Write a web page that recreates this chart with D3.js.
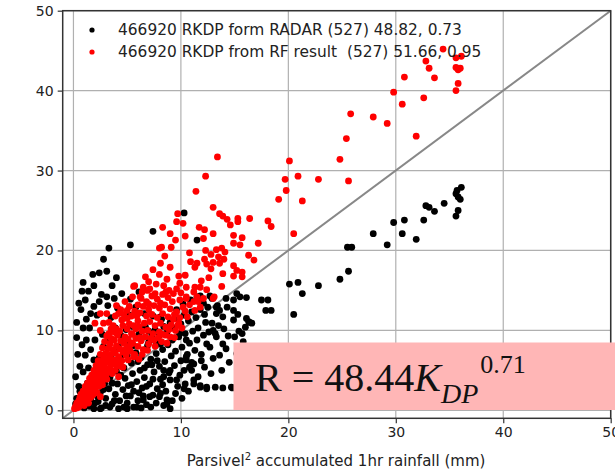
<!DOCTYPE html>
<html>
<head>
<meta charset="utf-8">
<script src="https://cdn.jsdelivr.net/npm/d3@7"></script>
<style>
body{margin:0;background:#fff}
svg{display:block;font-family:"DejaVu Sans",sans-serif}
</style>
</head>
<body>
<script>

// Legend entries
var seriesNames = ["466920 RKDP form RADAR (527) 48.82, 0.73",
                   "466920 RKDP from RF result  (527) 51.66, 0.95"];
var seriesColors = ["black", "red"];

// Tick labels
var xTicks = [0, 10, 20, 30, 40, 50];
var yTicks = [0, 10, 20, 30, 40, 50];

// RKDP from radar (x: Parsivel rainfall, y: estimate)
var radarPts = [
  [36.1,27.9],[35.7,27.5],[35.6,27.1],[35.8,26.7],[36.0,26.4],[35.8,25.0],[35.6,24.3],[34.5,25.9],
  [32.8,25.6],[33.1,25.4],[33.6,24.9],[32.6,23.8],[30.8,23.8],[29.8,23.5],[30.6,22.1],[31.9,21.4],
  [27.9,22.1],[29.2,20.7],[25.5,20.4],[25.9,20.4],[25.6,17.4],[24.8,16.4],[22.8,15.6],[20.9,16.0],
  [20.1,15.8],[21.3,14.6],[20.5,12.0],[18.1,13.8],[18.4,12.5],[7.4,22.4],[5.3,20.7],[3.3,20.3],
  [10.3,24.7],[11.5,21.3],[2.8,18.9],[2.4,17.2],[0.8,14.9],[1.4,14.9],[1.9,15.6],[3.6,15.6],
  [2.6,14.5],[3.1,14.2],[16.1,14.1],[17.5,13.8],[17.9,12.5],[16.4,11.0],[14.2,14.0],[14.9,13.8],
  [15.3,12.0],[16.1,11.5],[11.8,14.3],[12.7,14.3],[13.4,13.1],[11.5,14.2],[12.1,13.4],[12.9,14.0],
  [13.3,12.9],[13.6,12.5],[13.9,11.7],[14.9,12.5],[15.2,14.6],[15.5,14.2],[16.3,11.1],[15.7,9.6],
  [15.2,7.1],[15.4,9.9],[16.0,10.4],[16.6,10.9],
  [10.5,8.8],[11.5,8.8],[12.4,8.3],[13.0,6.5],[12.7,7.9],[13.3,9.2],[13.9,8.3],[10.5,6.7],
  [11.2,5.8],[11.0,5.0],[10.4,3.3],[11.2,3.3],[11.8,3.1],[12.4,2.9],[13.2,2.9],[13.9,2.8],
  [14.7,2.9],[14.8,2.8],[8.0,1.7],[8.7,0.8],[9.0,0.2],[5.9,0.4],[5.0,0.2],[4.2,0.2],[3.4,0.4],
  [8.1,11.7],[9.0,10.4],[9.9,9.6],[13.3,12.1],[14.9,11.3],[14.3,12.9],[13.0,10.0],[10.5,6.3],
  [10.8,5.4],[11.2,3.8],[11.8,2.9],[12.4,2.7],[9.6,3.8],[9.9,4.4],[9.0,5.0],[8.4,4.2],[8.1,2.1],
  [8.7,1.3],[6.5,1.3],[7.1,1.7],[5.6,0.4],[2.5,0.2],[1.9,0.2],
  [0.3,1.5],[0.5,3.0],[0.2,4.2],[0.6,5.5],[0.4,7.0],[0.8,8.2],[0.3,9.1],[0.9,10.3],[1.2,11.4],
  [0.7,12.6],[1.6,12.1],[1.9,13.0],[2.4,13.6],[3.2,13.1],[3.8,14.0],[4.5,14.6],[4.1,12.8],
  [5.3,13.9],[5.8,12.9],[6.1,14.8],[5.2,11.9],[3.5,11.6],[2.2,11.9],[1.5,10.3],[2.7,9.5],
  [2.0,8.8],[1.1,6.9],[0.9,4.8],[1.3,3.4],[1.8,2.4],[2.3,1.1],[2.6,0.3],[3.0,1.5],[3.3,2.7],
  [3.6,0.8],[3.9,2.0],[4.1,3.3],[4.3,1.2],[4.6,2.6],[4.8,4.0],[5.0,0.9],[5.1,3.1],[5.3,1.8],
  [5.5,4.6],[5.6,2.4],[5.9,3.6],[6.0,1.2],[6.2,5.0],[6.4,2.8],[6.6,4.1],[6.8,0.7],[6.9,5.7],
  [7.1,3.3],[7.2,6.4],[7.4,1.9],[7.5,4.8],[7.7,7.1],[7.8,2.7],[8.0,5.5],[8.1,3.9],[8.3,7.6],
  [8.5,6.1],[8.6,2.4],[8.8,8.2],[8.9,4.7],[9.1,6.8],[9.2,8.8],[9.4,5.6],[9.5,7.4],[9.7,3.0],
  [9.8,9.2],[10.0,6.2],[10.1,7.9],[10.3,5.0],[10.4,9.6],[10.6,7.0],[10.8,8.4],[11.0,6.0],
  [11.1,9.9],[11.3,7.5],[11.6,10.3],[11.9,7.0],[12.1,9.4],[12.3,11.0],[12.6,9.8],[12.9,10.9],
  [13.2,9.6],[13.5,10.6],[14.0,10.2],[14.4,9.3],[15.0,9.2],[15.8,8.6],[16.2,8.0],
  [2.1,4.0],[2.5,2.2],[2.9,3.4],[3.1,5.0],[3.4,4.1],[3.7,6.0],[4.0,4.9],[4.4,6.6],[4.7,5.3],
  [5.0,6.9],[5.4,5.9],[5.8,7.2],[6.3,6.6],[6.7,7.6],[7.0,8.5],[7.3,9.3],[7.6,10.1],[8.0,9.4],
  [8.4,10.5],[8.7,9.8],[9.0,11.0],[9.3,10.3],[9.6,11.5],[10.0,10.8],[10.3,11.9],[10.7,11.2],
  [11.0,12.3],[11.4,11.6],[11.8,12.6],[12.2,12.0],[12.5,12.9],[8.2,11.4],[7.4,11.8],[6.6,12.1],
  [3.0,0.6],[1.5,0.5],[4.7,0.4],[6.3,0.3],[7.7,0.9],[8.4,0.6],[2.0,0.9],[1.0,0.3],[0.5,0.7],
  [1.2,8.8],[1.6,7.6],[2.4,6.6],[2.8,8.0],[3.3,9.0],[3.9,10.3],[4.4,9.4],[4.9,10.1],[5.5,10.5],
  [6.1,9.5],[6.7,10.4],[7.0,9.9],[1.9,6.3],[1.4,5.3],[2.6,5.0],[3.5,6.8],[4.2,7.9],[4.9,8.6],
  [5.6,8.1],[6.3,8.9],[6.9,8.1],[7.6,8.7],[8.1,8.3],[6.0,6.1],[6.6,5.3],[7.3,5.7],[7.8,6.2],
  [8.4,5.0],[9.0,3.8],[9.5,2.1],[10.1,1.5],[10.7,2.4],[6.1,2.2],[6.8,3.0],[7.4,3.9],[5.4,3.2],
  [4.4,4.4],[3.6,3.4],[2.8,2.6],[2.2,1.8],[1.6,1.4],[1.1,2.2],[0.6,2.4],[0.2,0.8],[3.8,1.2],
  [4.9,1.8],[6.5,1.8],[7.2,0.4],[9.2,1.2],[10.3,2.7],[8.3,3.2],[11.6,4.2],[12.2,5.4],[12.8,4.6],
  [11.9,6.2],[13.6,6.9],[14.2,7.7],[14.5,6.0],[13.8,5.0],[9.6,12.6],[10.2,13.3],[10.9,13.8],
  [0.3,11.0],[0.5,13.4],[1.1,13.8],[0.9,16.0],[1.8,17.0],[3.1,17.4],[4.0,16.6]
];

// RKDP from RF result
var rfPts = [
  [34.4,45.2],[32.8,43.7],[33.1,42.8],[30.8,41.7],[33.6,41.6],[35.6,44.1],[36.1,44.3],[35.6,42.9],
  [36.0,42.8],[35.8,42.6],[35.8,40.9],[35.6,40.0],[29.8,39.8],[32.6,39.1],[30.6,38.3],[25.8,37.1],
  [27.9,36.7],[29.2,35.9],[25.4,34.0],[31.9,34.3],[24.8,31.4],[20.1,31.2],[20.9,29.3],[19.7,28.9],
  [22.8,28.9],[25.6,28.7],[19.8,27.5],[19.1,26.4],[21.3,26.2],[20.5,22.1],
  [13.4,31.7],[12.3,29.3],[11.4,27.4],[13.0,25.4],[13.6,24.6],[13.9,24.3],[14.3,23.9],[9.7,24.6],
  [9.6,23.6],[8.3,22.9],[15.3,24.0],[15.3,23.6],[16.4,24.0],[18.1,23.7],[18.4,23.0],[12.2,22.6],
  [13.0,22.1],[12.1,21.5],[14.9,21.9],[15.7,21.6],[15.5,20.7],[14.9,20.9],[9.0,22.1],[9.5,21.3],
  [9.1,20.4],[8.2,20.4],[8.0,20.3],[8.5,19.3],[8.1,18.4],[9.0,17.9],[10.8,19.7],[11.5,18.4],
  [11.3,17.9],[12.3,20.0],[12.8,19.5],[13.3,20.1],[13.8,20.3],[14.1,19.8],[14.0,18.9],[13.6,18.4],
  [13.0,18.5],[12.4,18.3],[12.8,17.7],[12.2,18.9],[13.5,19.2],[14.9,18.1],[15.2,17.5],[15.7,17.3],
  [14.9,16.8],[15.7,16.7],[13.8,15.5],[13.1,14.2],[6.7,16.7],[7.0,16.1],[6.5,15.4],[6.9,15.0],
  [6.2,14.2],[5.7,15.6],[5.6,15.5],[9.8,16.8],[10.4,16.9],[9.9,15.9],[9.6,15.2],[10.5,15.4],
  [11.3,15.4],[11.8,15.4],[11.2,14.8],[11.5,14.2],[10.5,14.0],[4.0,13.1],[5.0,12.5],[4.2,12.1],
  [2.5,12.1],[3.1,12.1],[2.0,10.9],[2.5,10.0],[2.8,10.9],[3.7,10.6],[4.5,11.3],[9.6,12.3],
  [10.2,12.9],[9.5,10.0],[9.8,10.9],[4.6,5.4],[4.2,4.2],[2.5,1.7],[9.9,13.8],[10.5,14.2],
  [11.2,13.6],[11.8,12.9],[12.1,14.0],[13.0,14.0],
  [6.3,14.0],[6.8,13.6],[7.3,14.3],[7.8,13.9],[8.3,14.5],[8.8,14.1],[9.2,13.6],[6.5,13.0],
  [7.0,12.6],[7.5,13.1],[8.0,12.8],[8.5,13.2],[9.0,12.7],[6.2,12.2],[6.8,11.8],[7.3,12.0],
  [7.8,11.6],[8.3,12.1],[8.8,11.7],[9.3,11.4],[6.0,11.2],[6.6,10.9],[7.1,11.1],[7.6,10.6],
  [8.1,10.9],[8.6,10.4],[9.1,10.7],[5.8,10.2],[6.4,9.9],[6.9,10.0],[7.4,9.6],[8.0,9.8],
  [8.6,9.4],[9.0,9.2],[5.5,9.5],[5.2,13.0],[5.7,12.4],[5.4,11.8],[5.0,11.5],[4.6,10.6],
  [3.8,9.8],[4.3,9.9],[5.0,10.2],[5.6,10.6],[3.3,9.6],
  [0.1,0.2],[0.2,0.5],[0.3,0.3],[0.3,0.9],[0.4,0.6],[0.5,1.2],[0.5,0.4],[0.6,0.9],[0.6,1.6],
  [0.7,0.7],[0.7,2.0],[0.8,1.3],[0.9,1.0],[0.9,2.4],[1.0,1.7],[1.0,0.6],[1.1,2.1],[1.1,3.0],
  [1.2,1.3],[1.2,2.6],[1.3,1.9],[1.3,3.4],[1.4,2.2],[1.4,0.9],[1.5,2.9],[1.5,4.0],[1.6,1.6],
  [1.6,3.3],[1.7,2.5],[1.7,4.4],[1.8,3.0],[1.8,1.9],[1.9,3.8],[1.9,5.0],[2.0,2.6],[2.0,4.3],
  [2.1,3.4],[2.1,5.6],[2.2,2.2],[2.2,4.8],[2.3,3.9],[2.3,6.2],[2.4,3.0],[2.4,5.3],[2.5,4.4],
  [2.5,7.0],[2.6,3.5],[2.6,5.9],[2.7,4.9],[2.7,7.8],[2.8,3.9],[2.8,6.5],[2.9,5.4],[2.9,8.6],
  [3.0,4.3],[3.0,7.1],[3.1,6.0],[3.1,9.3],[3.2,4.8],[3.2,7.7],[3.3,6.5],[3.4,5.3],[3.4,8.3],
  [3.5,7.0],[3.5,9.0],[3.6,5.8],[3.7,7.6],[3.8,6.3],[3.8,8.8],[3.9,7.2],[4.0,5.6],[4.0,8.1],
  [4.1,9.4],[4.2,6.7],[4.3,7.7],[4.4,8.7],[4.5,6.2],[4.6,7.3],[4.7,8.4],[4.8,9.2],[4.9,6.9],
  [5.0,7.9],[5.1,8.9],[5.3,7.4],[5.4,9.6],[5.5,8.4],[5.7,7.0],[5.8,9.0],[6.0,8.0],[6.1,6.4],
  [6.3,8.7],[6.5,7.6],[6.7,9.2],[7.0,8.3],[7.5,8.8],[8.2,8.6],[8.7,8.4],[9.4,9.1],
  [3.3,11.0],[3.9,11.8],[4.4,12.6],[4.8,13.6],[5.5,14.2],[6.0,13.2],[6.4,14.8],[7.1,15.2],
  [7.7,15.8],[8.4,15.6],[8.9,15.0],[9.3,14.6],[10.0,14.7],[10.8,13.2],[11.3,12.5],[10.6,11.7],
  [10.1,10.3],[9.9,11.6],[7.2,9.0],[7.9,9.1],[6.2,9.1],[5.3,8.2],[4.8,7.6],[4.1,6.1],[3.6,4.6],
  [3.1,3.9],[2.7,3.2],[3.9,5.0],[4.4,5.5],[5.1,6.3],[5.6,6.7],[6.4,7.0],[6.9,7.5],[7.6,8.0],
  [8.3,9.5],[8.9,10.1],[9.7,10.6],[10.4,12.4],[6.1,10.5],[5.2,10.8],[4.0,10.2],[3.5,10.2],
  [4.7,12.0],[5.9,11.8],[7.0,13.3],[7.6,14.6],[8.1,13.4],[8.6,14.8],[9.4,12.0],[11.6,13.6],
  [12.4,15.1],[11.9,16.2],[12.6,16.6],[8.7,16.4],[8.0,17.0],[7.4,17.6],[10.9,18.6],[13.9,17.1],
  [16.3,19.4],[16.8,18.8],[17.2,20.9],[11.7,22.9],[10.4,21.8],[10.2,23.4],[14.6,23.2]
];

var W = 615, H = 476;

var svg = d3.select("body").append("svg")
    .attr("width", W)
    .attr("height", H);

var x = d3.scaleLinear().domain([-1, 50]).range([62.7, 610.7]);
var y = d3.scaleLinear().domain([-1, 50]).range([418.3, 10.7]);

// grid
svg.append("g").selectAll("line.gx")
    .data(xTicks).enter().append("line")
    .attr("x1", x).attr("x2", x)
    .attr("y1", y(-1)).attr("y2", y(50))
    .attr("stroke", "#b0b0b0").attr("stroke-width", 1.2);
svg.append("g").selectAll("line.gy")
    .data(yTicks).enter().append("line")
    .attr("y1", y).attr("y2", y)
    .attr("x1", x(-1)).attr("x2", x(50))
    .attr("stroke", "#b0b0b0").attr("stroke-width", 1.2);

// 1:1 line
svg.append("line")
    .attr("x1", x(-1)).attr("y1", y(-1))
    .attr("x2", x(50)).attr("y2", y(50))
    .attr("stroke", "#888").attr("stroke-width", 2);

// points
[radarPts, rfPts].forEach(function (pts, i) {
    svg.append("g").selectAll("circle")
        .data(pts).enter().append("circle")
        .attr("cx", function (d) { return x(d[0]); })
        .attr("cy", function (d) { return y(d[1]); })
        .attr("r", 3.4)
        .attr("fill", seriesColors[i]);
});

// axes
var xAxis = svg.append("g")
    .attr("transform", "translate(0," + y(-1) + ")")
    .call(d3.axisBottom(x).tickValues(xTicks).tickSize(5).tickPadding(4));
var yAxis = svg.append("g")
    .attr("transform", "translate(" + x(-1) + ",0)")
    .call(d3.axisLeft(y).tickValues(yTicks).tickSize(5).tickPadding(4));
[xAxis, yAxis].forEach(function (a) {
    a.select(".domain").remove();
    a.selectAll("text").attr("font-family", "DejaVu Sans").attr("font-size", 14).attr("fill", "#222");
    a.selectAll("line").attr("stroke", "#333").attr("stroke-width", 1.2);
});

// frame
svg.append("rect")
    .attr("x", x(-1)).attr("y", y(50))
    .attr("width", x(50) - x(-1)).attr("height", y(-1) - y(50))
    .attr("fill", "none").attr("stroke", "#333").attr("stroke-width", 1.5);

// x label
var xl = svg.append("text")
    .attr("x", 336).attr("y", 466)
    .attr("text-anchor", "middle")
    .attr("font-size", 15).attr("fill", "#222");
xl.append("tspan").text("Parsivel");
xl.append("tspan").attr("font-size", 10).attr("dy", -6).text("2");
xl.append("tspan").attr("dy", 6).text(" accumulated 1hr rainfall (mm)");

// legend
var leg = svg.append("g").selectAll("g")
    .data(seriesNames).enter().append("g")
    .attr("transform", function (d, i) { return "translate(92," + (30 + i * 22) + ")"; });
leg.append("circle").attr("r", 2.6).attr("fill", function (d, i) { return seriesColors[i]; });
leg.append("text")
    .attr("x", 26).attr("y", 5)
    .attr("font-size", 15.4).attr("fill", "#222")
    .style("white-space", "pre")
    .text(function (d) { return d; });

// formula box
svg.append("rect")
    .attr("x", 233.5).attr("y", 342.5)
    .attr("width", 400).attr("height", 67.5)
    .attr("fill", "#ffb6b6");
var f = svg.append("text")
    .attr("x", 255).attr("y", 391)
    .attr("font-family", "Liberation Serif")
    .attr("font-size", 40).attr("fill", "#111");
f.append("tspan").text("R = 48.44");
f.append("tspan").attr("font-style", "italic").text("K");
f.append("tspan").attr("font-style", "italic").attr("font-size", 28).attr("dy", 12).text("DP");
f.append("tspan").attr("font-size", 26).attr("dy", -30).attr("dx", 2).text("0.71");

</script>
</body>
</html>
